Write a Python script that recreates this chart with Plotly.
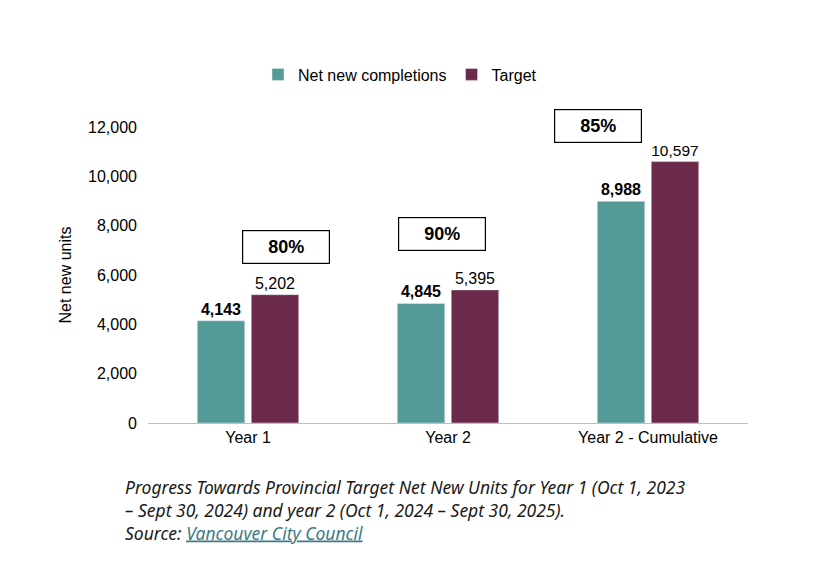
import plotly.graph_objects as go

categories = ["Year 1", "Year 2", "Year 2 - Cumulative"]
completions = [4143, 4845, 8988]
target = [5202, 5395, 10597]
pct_labels = ["80%", "90%", "85%"]
pct_y = [7150, 7650, 12750]
y_max = 12000

teal = "#549B97"
maroon = "#6C2A4B"
font = "Liberation Sans, Arial, sans-serif"

fig = go.Figure()
fig.add_trace(go.Bar(
    x=categories, y=completions, name="Net new completions", marker_color=teal,
    texttemplate="<b>%{y:,}</b>", textposition="outside", cliponaxis=False,
    textfont=dict(size=16, color="#000000"),
))
fig.add_trace(go.Bar(
    x=categories, y=target, name="Target", marker_color=maroon,
    texttemplate="%{y:,}", textposition="outside", cliponaxis=False,
    textfont=dict(size=16, color="#000000"),
))

for i, (label, y) in enumerate(zip(pct_labels, pct_y)):
    fig.add_annotation(
        x=(i + 0.5) / 3 - 0.01, y=y / y_max, xref="paper", yref="paper",
        text=f"<b>{label}</b>", showarrow=False,
        font=dict(size=18, color="#000000", family=font),
        bordercolor="#000000", borderwidth=1.2, bgcolor="white",
        width=84, height=30,
    )

caption = (
    "<i>Progress Towards Provincial Target Net New Units for Year 1 (Oct 1, 2023<br>"
    "– Sept 30, 2024) and year 2 (Oct 1, 2024 – Sept 30, 2025).<br>"
    "Source: <span style='color:#3C7A86'><u>Vancouver City Council</u></span></i>"
)
fig.add_annotation(
    x=0, y=0, xref="paper", yref="paper", xanchor="left", yanchor="top",
    xshift=-25, yshift=-50, text=caption, showarrow=False, align="left",
    font=dict(size=17.5, color="#1a1a1a", family="Noto Sans, Open Sans, sans-serif"),
)

fig.update_layout(
    width=813, height=565, paper_bgcolor="white", plot_bgcolor="white",
    margin=dict(l=140, r=73, t=119, b=150, autoexpand=False),
    barmode="group", bargap=0.46, bargroupgap=0.12,
    font=dict(family=font, size=16, color="#000000"),
    legend=dict(orientation="h", x=0.42, xanchor="center", y=1.12, yanchor="bottom",
                font=dict(size=16), itemwidth=30, tracegroupgap=0),
    xaxis=dict(showline=True, linecolor="#bfbfbf", ticks="", tickfont=dict(size=16)),
    yaxis=dict(range=[0, y_max], dtick=2000, tickformat=",", showgrid=False,
               zeroline=False, ticklabelstandoff=10,
               title=dict(text="Net new units", font=dict(size=16), standoff=12),
               tickfont=dict(size=16)),
)

fig.write_html("out.html")
